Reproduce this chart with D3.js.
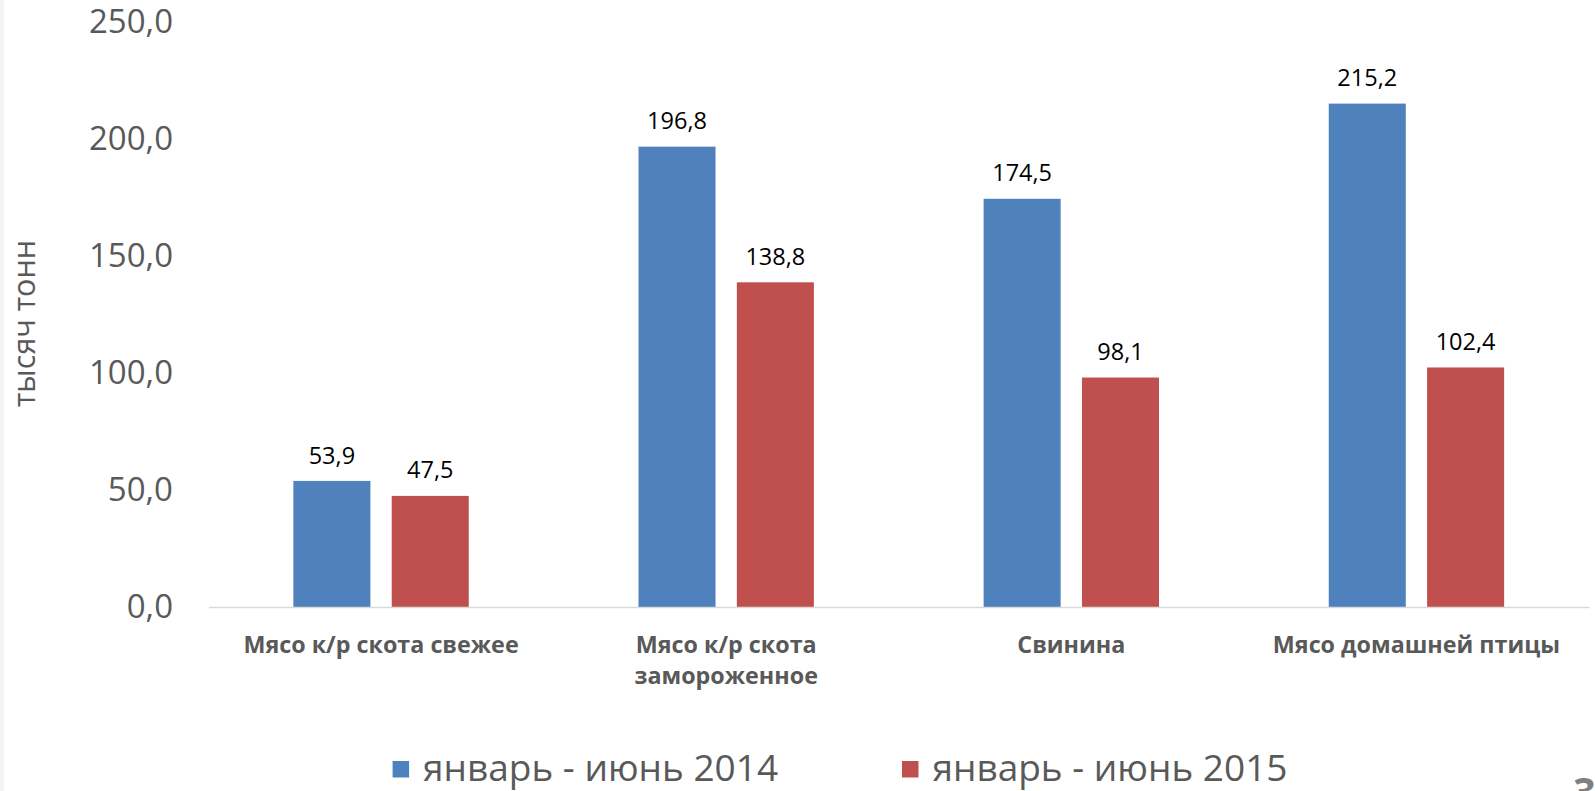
<!DOCTYPE html>
<html><head><meta charset="utf-8">
<script src="https://cdn.jsdelivr.net/npm/d3@7"></script>
<style>html,body{margin:0;padding:0;background:#fff;overflow:hidden}</style>
</head><body>
<svg id="c" width="1595" height="791"></svg>
<script>
const categories = [["Мясо к/р скота свежее"], ["Мясо к/р скота", "замороженное"], ["Свинина"], ["Мясо домашней птицы"]];
const seriesNames = ["январь - июнь 2014", "январь - июнь 2015"];
const values2014 = [53.9, 196.8, 174.5, 215.2];
const values2015 = [47.5, 138.8, 98.1, 102.4];
const yTicks = [0, 50, 100, 150, 200, 250];
const yTitle = "тысяч тонн";
const colors = ["#4F81BD", "#C0504D"];

const fmt = v => v.toFixed(1).replace(".", ",");
const svg = d3.select("#c");
const W = 1595, H = 791;
const font = "'Open Sans', sans-serif";

svg.append("rect").attr("x",0).attr("y",0).attr("width",4).attr("height",H).attr("fill","#f3f3f3");

const catIdx = categories.map((c,i)=>i);
const x0 = d3.scaleBand().domain(catIdx).range([208.5, 1589]).padding(0);
const x1 = d3.scaleBand().domain([0,1]).range([0, x0.bandwidth()]).paddingInner(0.2167).paddingOuter(0.863);
const y = d3.scaleLinear().domain([0, 250]).range([607, 22.2]);

// y axis labels
const yAxis = d3.axisLeft(y).tickValues(yTicks).tickFormat(fmt).tickSize(0).tickPadding(0);
const gy = svg.append("g").attr("transform","translate(173,0)").call(yAxis);
gy.select(".domain").remove();
gy.selectAll("text").attr("font-family",font).attr("font-size",33).attr("fill","#595959");

// y title
svg.append("text").attr("transform","translate(24,323.5) rotate(-90)")
  .attr("text-anchor","middle").attr("dy","0.35em")
  .attr("font-family",font).attr("font-size",30.5).attr("fill","#595959").text(yTitle);

// bars
const data = [values2014, values2015];
data.forEach((vals, s) => {
  const g = svg.append("g");
  g.selectAll("rect").data(vals).join("rect")
    .attr("x",(d,i)=>x0(i)+x1(s)).attr("width",x1.bandwidth())
    .attr("y",d=>y(d)).attr("height",d=>y(0)-y(d)).attr("fill",colors[s]);
  g.selectAll("text").data(vals).join("text")
    .attr("x",(d,i)=>x0(i)+x1(s)+x1.bandwidth()/2).attr("y",d=>y(d)-17.4)
    .attr("text-anchor","middle").attr("font-family",font).attr("font-size",23.5).attr("fill","#000")
    .text(fmt);
});

// x axis
const xAxis = d3.axisBottom(x0).tickSize(0).tickFormat("");
const gx = svg.append("g").attr("transform",`translate(0,${y(0)})`).call(xAxis);
gx.select(".domain").attr("stroke","#D9D9D9").attr("stroke-width",1.5);
categories.forEach((lines,i)=>{
  const t = svg.append("text").attr("x",x0(i)+x0.bandwidth()/2).attr("y",653)
    .attr("text-anchor","middle").attr("font-family",font).attr("font-weight","bold")
    .attr("font-size",23.3).attr("fill","#595959");
  lines.forEach((l,k)=>t.append("tspan").attr("x",x0(i)+x0.bandwidth()/2).attr("dy",k?31:0).text(l));
});

// legend
const legX = [392.6, 902];
seriesNames.forEach((n,s)=>{
  svg.append("rect").attr("x",legX[s]).attr("y",761).attr("width",16.5).attr("height",16.5).attr("fill",colors[s]);
  svg.append("text").attr("x",legX[s]+30.5).attr("y",781).attr("font-family",font)
    .attr("font-size",37).attr("fill","#595959").text(n);
});

// slide number (cut off)
svg.append("text").attr("x",1573).attr("y",806).attr("font-family",font).attr("font-weight","bold")
  .attr("font-size",40).attr("fill","#7f7f7f").text("3");
</script>
</body></html>
